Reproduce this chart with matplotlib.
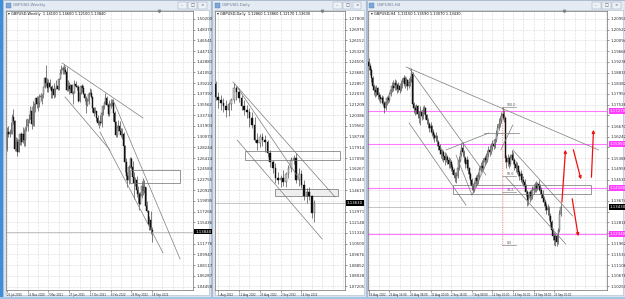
import numpy as np
import matplotlib.pyplot as plt
from matplotlib.patches import Rectangle
from matplotlib.transforms import blended_transform_factory

W, H = 625, 299

# ---- weekly GBPUSD (26 Jul 2020 .. 18 Sep 2022) ----
wk_open0 = 1.2790
wk_close = [1.3085, 1.3055, 1.3090, 1.3090, 1.3350, 1.3275, 1.2795, 1.2915, 1.2745, 1.2945, 1.3045, 1.2915, 1.3045, 1.2945,
            1.3150, 1.3190, 1.3305, 1.3315, 1.3440, 1.3230, 1.3515, 1.3555,
            1.3670, 1.3565, 1.3585, 1.3685, 1.3705, 1.3730, 1.3850, 1.4010, 1.3925, 1.3835, 1.3925, 1.3865, 1.3790, 1.3825,
            1.3715, 1.3840, 1.3875, 1.3815, 1.3990, 1.4090, 1.4150, 1.4190, 1.4155, 1.4110, 1.3800, 1.3880, 1.3830, 1.3885,
            1.3760, 1.3760, 1.3900, 1.3875, 1.3865, 1.3625, 1.3760, 1.3870, 1.3840, 1.3740, 1.3675, 1.3545, 1.3620, 1.3745,
            1.3750, 1.3680, 1.3490, 1.3415, 1.3440, 1.3330, 1.3235, 1.3265, 1.3235, 1.3405, 1.3530,
            1.3590, 1.3675, 1.3555, 1.3390, 1.3530, 1.3560, 1.3590, 1.3410, 1.3250, 1.3035, 1.3180, 1.3185, 1.3110, 1.3035,
            1.3060, 1.2840, 1.2570, 1.2340, 1.2265, 1.2485, 1.2625, 1.2490, 1.2310, 1.2215, 1.2265, 1.2095, 1.2030, 1.1865,
            1.2000, 1.2165, 1.2075, 1.2140, 1.1830, 1.1735, 1.1510, 1.1580, 1.1410, 1.1384]
wk_high = [1.3170, 1.3185, 1.3145, 1.3265, 1.3395, 1.3480, 1.3285, 1.3010, 1.2980, 1.2985, 1.3065, 1.3085, 1.3175, 1.3140,
           1.3180, 1.3315, 1.3310, 1.3400, 1.3540, 1.3460, 1.3625, 1.3585,
           1.3675, 1.3705, 1.3710, 1.3745, 1.3760, 1.3740, 1.3865, 1.4035, 1.4240, 1.4015, 1.3990, 1.4000, 1.3870, 1.3885,
           1.3920, 1.3845, 1.3975, 1.3950, 1.4005, 1.4165, 1.4235, 1.4220, 1.4250, 1.4220, 1.4200, 1.3975, 1.3935, 1.3910,
           1.3910, 1.3790, 1.3985, 1.3960, 1.3890, 1.3890, 1.3785, 1.3890, 1.3910, 1.3890, 1.3750, 1.3710, 1.3675, 1.3775,
           1.3835, 1.3825, 1.3700, 1.3515, 1.3515, 1.3450, 1.3375, 1.3300, 1.3375, 1.3440, 1.3545,
           1.3615, 1.3750, 1.3700, 1.3590, 1.3630, 1.3645, 1.3645, 1.3645, 1.3440, 1.3280, 1.3215, 1.3300, 1.3275, 1.3150,
           1.3150, 1.3090, 1.2860, 1.2640, 1.2405, 1.2525, 1.2665, 1.2665, 1.2600, 1.2405, 1.2325, 1.2335, 1.2165, 1.2060,
           1.2065, 1.2245, 1.2295, 1.2275, 1.2145, 1.1900, 1.1760, 1.1650, 1.1740, 1.1460]
wk_low = [1.2760, 1.3005, 1.3000, 1.3055, 1.3060, 1.3230, 1.2765, 1.2765, 1.2675, 1.2740, 1.2860, 1.2865, 1.2905, 1.2855,
          1.2855, 1.3105, 1.3110, 1.3235, 1.3305, 1.3135, 1.3195, 1.3190,
          1.3435, 1.3490, 1.3450, 1.3520, 1.3620, 1.3565, 1.3675, 1.3835, 1.3880, 1.3775, 1.3780, 1.3830, 1.3670, 1.3670,
          1.3670, 1.3680, 1.3825, 1.3805, 1.3800, 1.3990, 1.4075, 1.4080, 1.4080, 1.4075, 1.3790, 1.3785, 1.3730, 1.3760,
          1.3745, 1.3570, 1.3760, 1.3860, 1.3805, 1.3600, 1.3600, 1.3730, 1.3770, 1.3735, 1.3610, 1.3410, 1.3530, 1.3570,
          1.3720, 1.3670, 1.3425, 1.3355, 1.3410, 1.3280, 1.3200, 1.3160, 1.3200, 1.3170, 1.3380,
          1.3475, 1.3570, 1.3530, 1.3360, 1.3360, 1.3490, 1.3525, 1.3270, 1.3240, 1.3000, 1.2995, 1.3105, 1.3090, 1.3010,
          1.2975, 1.2830, 1.2410, 1.2260, 1.2155, 1.2190, 1.2465, 1.2460, 1.2300, 1.1935, 1.2160, 1.1975, 1.1875, 1.1760,
          1.1850, 1.1960, 1.2005, 1.2050, 1.1805, 1.1715, 1.1490, 1.1405, 1.1350, 1.1210]
wk_ticks = [1.50200, 1.48370, 1.46541, 1.44711, 1.42881, 1.41052, 1.39222, 1.37392, 1.35562, 1.33733, 1.31903,
            1.30073, 1.28244, 1.26414, 1.24584, 1.22755, 1.20925, 1.19095, 1.17266, 1.15436, 1.13606, 1.11776,
            1.09947, 1.08117, 1.06287, 1.04458]
wk_date_pos = [0, 16, 32, 48, 64, 80, 96, 112]
wk_dates = ['26 Jul 2020', '15 Nov 2020', '7 Mar 2021', '27 Jun 2021', '17 Oct 2021', '6 Feb 2022', '29 May 2022',
            '18 Sep 2022']

# ---- daily GBPUSD (29 Jul .. 22 Sep 2022) ----
d_open0 = 1.2279
d_close = [1.2179, 1.2156, 1.2133, 1.2110, 1.2079, 1.2125, 1.2156, 1.2248, 1.2218, 1.2171, 1.2110, 1.2079, 1.2064,
           1.2017, 1.1963, 1.1848, 1.1825, 1.1871, 1.1848, 1.1833, 1.1748, 1.1679, 1.1632, 1.1555, 1.1540, 1.1555,
           1.1525, 1.1586, 1.1632, 1.1694, 1.1710, 1.1540, 1.1586, 1.1502, 1.1417, 1.1448, 1.1417, 1.1286, 1.1363]
d_high = [1.2302, 1.2218, 1.2194, 1.2171, 1.2156, 1.2141, 1.2171, 1.2287, 1.2264, 1.2248, 1.2194, 1.2156, 1.2118,
          1.2094, 1.2064, 1.2025, 1.1902, 1.1894, 1.1902, 1.1887, 1.1848, 1.1771, 1.1694, 1.1671, 1.1602, 1.1579,
          1.1617, 1.1602, 1.1656, 1.1717, 1.1733, 1.1748, 1.1632, 1.1617, 1.1540, 1.1478, 1.1486, 1.1424, 1.1386]
d_low = [1.2156, 1.2094, 1.2079, 1.2064, 1.2025, 1.2033, 1.2079, 1.2133, 1.2156, 1.2141, 1.2079, 1.2041, 1.2017,
         1.1948, 1.1940, 1.1833, 1.1771, 1.1794, 1.1802, 1.1756, 1.1717, 1.1640, 1.1594, 1.1517, 1.1509, 1.1486,
         1.1494, 1.1486, 1.1555, 1.1602, 1.1663, 1.1517, 1.1494, 1.1478, 1.1386, 1.1363, 1.1386, 1.1247, 1.1217]
d_ticks = [1.27800, 1.26976, 1.26152, 1.25329, 1.24505, 1.23681, 1.22857, 1.22033, 1.21209, 1.20386, 1.19562,
           1.18738, 1.17914, 1.17090, 1.16267, 1.15443, 1.14619, 1.13795, 1.12971, 1.12148, 1.11324, 1.10500,
           1.09676, 1.08852, 1.08028, 1.07205]
d_date_pos = [1, 9, 17, 25, 33]
d_dates = ['1 Aug 2022', '11 Aug 2022', '23 Aug 2022', '2 Sep 2022', '14 Sep 2022']

# ---- H4 GBPUSD (19 Aug .. 22 Sep 2022) ----
h_open0 = 1.1923
h_close = [1.1907, 1.1891, 1.1859, 1.1827, 1.1811, 1.1803, 1.1819, 1.1791, 1.1783, 1.1775,
           1.1779, 1.1759, 1.1739, 1.1763, 1.1779, 1.1771, 1.1795, 1.1811, 1.1827, 1.1819,
           1.1839, 1.1831, 1.1815, 1.1827, 1.1811, 1.1835, 1.1843, 1.1859, 1.1835, 1.1851,
           1.1827, 1.1843, 1.1851, 1.1875, 1.1755, 1.1739, 1.1731, 1.1747, 1.1715, 1.1699,
           1.1723, 1.1707, 1.1731, 1.1739, 1.1711, 1.1691, 1.1675, 1.1659, 1.1667, 1.1643,
           1.1631, 1.1619, 1.1627, 1.1603, 1.1587, 1.1571, 1.1555, 1.1563, 1.1547, 1.1531,
           1.1543, 1.1531, 1.1515, 1.1523, 1.1503, 1.1491, 1.1471, 1.1459, 1.1467, 1.1499,
           1.1531, 1.1555, 1.1579, 1.1563, 1.1539, 1.1515, 1.1531, 1.1499, 1.1475, 1.1451,
           1.1427, 1.1411, 1.1435, 1.1459, 1.1447, 1.1467, 1.1491, 1.1507, 1.1499, 1.1523,
           1.1539, 1.1531, 1.1555, 1.1571, 1.1563, 1.1583, 1.1595, 1.1587, 1.1611, 1.1635,
           1.1659, 1.1675, 1.1691, 1.1707, 1.1715, 1.1699, 1.1539, 1.1523, 1.1539, 1.1515,
           1.1539, 1.1551, 1.1531, 1.1515, 1.1499, 1.1507, 1.1483, 1.1467, 1.1475, 1.1451,
           1.1443, 1.1427, 1.1403, 1.1371, 1.1379, 1.1403, 1.1387, 1.1411, 1.1419, 1.1431,
           1.1419, 1.1435, 1.1427, 1.1411, 1.1395, 1.1379, 1.1363, 1.1347, 1.1331, 1.1339,
           1.1307, 1.1283, 1.1251, 1.1227, 1.1211, 1.1227, 1.1203, 1.1251, 1.1315, 1.1343]
h_high = [1.1939, 1.1919, 1.1899, 1.1867, 1.1835, 1.1827, 1.1831, 1.1823, 1.1803, 1.1795,
          1.1791, 1.1787, 1.1767, 1.1771, 1.1787, 1.1791, 1.1803, 1.1827, 1.1843, 1.1851,
          1.1855, 1.1851, 1.1839, 1.1843, 1.1835, 1.1851, 1.1859, 1.1871, 1.1867, 1.1863,
          1.1855, 1.1859, 1.1867, 1.1899, 1.1883, 1.1763, 1.1751, 1.1755, 1.1751, 1.1727,
          1.1747, 1.1731, 1.1747, 1.1751, 1.1743, 1.1715, 1.1699, 1.1683, 1.1683, 1.1671,
          1.1655, 1.1639, 1.1643, 1.1631, 1.1611, 1.1595, 1.1579, 1.1575, 1.1571, 1.1563,
          1.1559, 1.1551, 1.1543, 1.1539, 1.1531, 1.1515, 1.1499, 1.1483, 1.1483, 1.1511,
          1.1547, 1.1571, 1.1599, 1.1603, 1.1571, 1.1547, 1.1547, 1.1535, 1.1503, 1.1483,
          1.1459, 1.1439, 1.1447, 1.1471, 1.1475, 1.1483, 1.1503, 1.1523, 1.1531, 1.1539,
          1.1551, 1.1559, 1.1571, 1.1587, 1.1591, 1.1599, 1.1611, 1.1615, 1.1619, 1.1651,
          1.1675, 1.1699, 1.1707, 1.1723, 1.1743, 1.1731, 1.1707, 1.1551, 1.1555, 1.1547,
          1.1555, 1.1571, 1.1563, 1.1539, 1.1527, 1.1523, 1.1511, 1.1491, 1.1491, 1.1479,
          1.1467, 1.1455, 1.1435, 1.1411, 1.1395, 1.1411, 1.1415, 1.1427, 1.1435, 1.1443,
          1.1447, 1.1443, 1.1451, 1.1435, 1.1423, 1.1411, 1.1387, 1.1375, 1.1359, 1.1355,
          1.1347, 1.1319, 1.1291, 1.1259, 1.1243, 1.1239, 1.1235, 1.1259, 1.1331, 1.1359]
h_low = [1.1891, 1.1871, 1.1843, 1.1811, 1.1791, 1.1783, 1.1787, 1.1775, 1.1767, 1.1759,
         1.1755, 1.1747, 1.1719, 1.1731, 1.1751, 1.1759, 1.1763, 1.1787, 1.1803, 1.1807,
         1.1811, 1.1811, 1.1799, 1.1803, 1.1799, 1.1807, 1.1819, 1.1827, 1.1819, 1.1827,
         1.1811, 1.1819, 1.1827, 1.1843, 1.1739, 1.1719, 1.1711, 1.1715, 1.1699, 1.1679,
         1.1671, 1.1691, 1.1695, 1.1715, 1.1695, 1.1675, 1.1659, 1.1643, 1.1639, 1.1627,
         1.1615, 1.1603, 1.1607, 1.1587, 1.1571, 1.1555, 1.1539, 1.1531, 1.1523, 1.1511,
         1.1523, 1.1515, 1.1499, 1.1499, 1.1487, 1.1475, 1.1459, 1.1443, 1.1439, 1.1459,
         1.1491, 1.1523, 1.1547, 1.1547, 1.1523, 1.1499, 1.1491, 1.1475, 1.1459, 1.1435,
         1.1411, 1.1399, 1.1403, 1.1423, 1.1431, 1.1435, 1.1455, 1.1483, 1.1487, 1.1491,
         1.1511, 1.1519, 1.1523, 1.1543, 1.1547, 1.1555, 1.1571, 1.1575, 1.1579, 1.1603,
         1.1627, 1.1651, 1.1663, 1.1679, 1.1691, 1.1683, 1.1523, 1.1499, 1.1507, 1.1499,
         1.1507, 1.1531, 1.1515, 1.1491, 1.1483, 1.1475, 1.1467, 1.1451, 1.1443, 1.1435,
         1.1427, 1.1411, 1.1387, 1.1347, 1.1351, 1.1363, 1.1371, 1.1375, 1.1395, 1.1403,
         1.1403, 1.1411, 1.1407, 1.1395, 1.1379, 1.1363, 1.1347, 1.1331, 1.1315, 1.1311,
         1.1291, 1.1267, 1.1235, 1.1211, 1.1191, 1.1187, 1.1187, 1.1195, 1.1243, 1.1307]
h_ticks = [1.20950, 1.20522, 1.20094, 1.19666, 1.19238, 1.18810, 1.18382, 1.17954, 1.17526, 1.17098, 1.16670,
           1.16242, 1.15814, 1.15386, 1.14958, 1.14530, 1.14102, 1.13674, 1.13246, 1.12818, 1.12390, 1.11962,
           1.11534, 1.11106, 1.10678, 1.10250]
h_date_pos = [0, 16, 32, 48, 64, 80, 96, 112, 128, 144]
h_dates = ['19 Aug 2022', '23 Aug 16:00', '26 Aug 08:00', '31 Aug 00:00', '2 Sep 16:00', '7 Sep 08:00',
           '12 Sep 00:00', '14 Sep 16:00', '19 Sep 08:00', '22 Sep 00:00']
h_levels = [1.1727, 1.1595, 1.1418, 1.1234]

# trend lines: (x0, p0, x1, p1) in bar index / price
wk_lines = [(42.5, 1.4268, 105.0, 1.3327), (44.8, 1.3686, 79.5, 1.2780),
            (71.8, 1.3088, 120.5, 1.1019), (81.9, 1.3635, 133.6, 1.0916)]
d_lines = [(6.7, 1.2295, 46.0, 1.1409), (8.3, 1.2256, 32.5, 1.1540), (8.3, 1.1848, 41.0, 1.1086)]
h_lines = [(29.0, 1.1903, 178.6, 1.1571), (31.3, 1.1899, 91.0, 1.1471), (31.3, 1.1679, 75.5, 1.1351),
           (111.9, 1.1571, 158.4, 1.1307), (106.5, 1.1463, 153.0, 1.1195),
           (60.0, 1.1571, 93.3, 1.1639), (89.5, 1.1639, 116.6, 1.1639),
           (67.8, 1.1551, 80.2, 1.1391), (80.2, 1.1391, 92.6, 1.1531), (102.6, 1.1571, 111.9, 1.1671)]
h_arrows = [(149.9, 1.1351, 153.0, 1.1583), (158.4, 1.1583, 165.4, 1.1443),
            (172.9, 1.1451, 174.7, 1.1663), (157.7, 1.1387, 163.1, 1.1215)]
fib_levels = [1.1743, 1.1467, 1.1403, 1.1191]
fib_names = ['100.0', '50.0', '38.2', '0.0']

fig = plt.figure(figsize=(W / 100, H / 100), dpi=100)
fig.patch.set_facecolor('#d3dce7')


def rect(x0, y0, x1, y1, **kw):
    kw.setdefault('zorder', -5)
    fig.add_artist(Rectangle((x0 / W, 1 - y1 / H), (x1 - x0) / W, (y1 - y0) / H,
                             transform=fig.transFigure, **kw))


def window(x0, x1, title):
    rect(x0, 0, x1, 297, fc='#dae3ee', ec='#9db0c6', lw=0.5)
    rect(x0 + 1, 0.5, x1 - 1, 9.5, fc='#e4ebf3', ec='none')
    rect(x0 + 2.5, 2.5, x0 + 7.5, 7.5, fc='#7da7d6', ec='#4f7fb5', lw=0.3, zorder=-4)
    fig.text((x0 + 10) / W, 1 - 5.2 / H, title, fontsize=3, color='#6f7f92', va='center')
    for k, sym in enumerate(['\u2013', '\u25a1', '\u00d7']):
        bx = x1 - 33 + k * 10
        rect(bx, 2, bx + 8.5, 8.5, fc='#eef2f7', ec='#8c9db2', lw=0.3, zorder=-4)
        fig.text((bx + 4.25) / W, 1 - 5.3 / H, sym, fontsize=3, color='#44546a', ha='center', va='center')
    rect(x0 + 2.5, 10, x1 - 2, 295, fc='white', ec='#a9b8c9', lw=0.4)


def candles(ax, open0, close, high, low, width):
    c = np.array(close)
    o = np.array([open0] + close[:-1])
    hi = np.array(high)
    lo = np.array(low)
    idx = np.arange(len(c))
    up = c >= o
    ax.vlines(idx, lo, hi, color='#3a3a3a', lw=0.45, zorder=3)
    body = np.maximum(np.abs(c - o), 0.00015)
    ax.bar(idx[up], body[up], width, bottom=o[up], color='#cfcfcf', edgecolor='#4a4a4a', lw=0.3, zorder=4)
    ax.bar(idx[~up], body[~up], width, bottom=c[~up], color='#111111', edgecolor='#111111', lw=0.3, zorder=4)


def setup(ax, xlim, ticks, date_pos, dates, grid_step, header, last, marked=()):
    ax.set_facecolor('white')
    ax.set_xlim(*xlim)
    for s in ax.spines.values():
        s.set_color('#6e6e6e')
        s.set_linewidth(0.5)
    ax.yaxis.tick_right()
    step = abs(ticks[0] - ticks[1])
    # the coloured price boxes hide the scale labels under them
    hidden = [last] + list(marked)
    ax.set_yticks(ticks)
    ax.set_yticklabels(['' if min(abs(v - m) for m in hidden) < 0.5 * step else '%.5f' % v for v in ticks])
    ax.set_xticks(date_pos)
    ax.set_xticklabels(dates)
    for lb in ax.get_xticklabels():
        lb.set_ha('left')
    ax.set_xticks(np.arange(date_pos[0], xlim[1], grid_step), minor=True)
    ax.tick_params(axis='y', which='major', labelsize=2.8, length=1.5, width=0.4, pad=1.2,
                   colors='#4a4a4a', labelcolor='#2a2a2a')
    ax.tick_params(axis='x', which='major', labelsize=1.9, length=1.5, width=0.4, pad=1.0,
                   colors='#4a4a4a', labelcolor='#2a2a2a')
    ax.tick_params(axis='x', which='minor', length=0)
    ax.grid(True, which='both', color='#b9b9b9', lw=0.4, linestyle=(0, (1, 1.6)))
    ax.set_axisbelow(True)
    ax.text(0.012, 0.993, header, transform=ax.transAxes, fontsize=2.6, va='top', color='#111111')
    tr = blended_transform_factory(ax.transAxes, ax.transData)
    ax.axhline(last, color='#9a9a9a', lw=0.4, zorder=2)
    ax.text(1.012, last, '%.5f' % last, transform=tr, fontsize=2.8, color='white', va='center',
            bbox=dict(fc='black', ec='none', pad=0.6), zorder=8)
    ax.plot([0.82], [1.0], marker='v', ms=1.8, color='#8a8a8a', transform=ax.transAxes, clip_on=False)
    return tr


def ax_px(x0, x1):
    return fig.add_axes([x0 / W, 1 - 290 / H, (x1 - x0) / W, (290 - 10.5) / H])


# ---------- window 1: weekly ----------
window(3, 211, 'GBPUSD,Weekly')
ax1 = ax_px(6, 193)
ax1.set_ylim(1.0386, 1.5165)
candles(ax1, wk_open0, wk_close, wk_high, wk_low, 0.75)
setup(ax1, (-0.77, 143.6), wk_ticks, wk_date_pos, wk_dates, 8,
      '\u25be GBPUSD,Weekly  %.5f %.5f %.5f %.5f' % (wk_close[-2], wk_high[-1], wk_low[-1], wk_close[-1]),
      wk_close[-1])
for x0, p0, x1, p1 in wk_lines:
    ax1.plot([x0, x1], [p0, p1], color='#7c7c7c', lw=0.5, zorder=5)
ax1.add_patch(Rectangle((95.0, 1.2216), 38.6, 0.0222, fc='none', ec='#6e6e6e', lw=0.5, zorder=5))

# ---------- window 2: daily ----------
window(212, 366, 'GBPUSD,Daily')
ax2 = ax_px(215, 345)
ax2.set_ylim(1.0693, 1.2845)
candles(ax2, d_open0, d_close, d_high, d_low, 0.62)
setup(ax2, (-0.2, 49.8), d_ticks, d_date_pos, d_dates, 4,
      '\u25be GBPUSD,Daily  %.5f %.5f %.5f %.5f' % (d_close[-2], d_high[-1], d_low[-1], d_close[-1]),
      d_close[-1])
for x0, p0, x1, p1 in d_lines:
    ax2.plot([x0, x1], [p0, p1], color='#7c7c7c', lw=0.5, zorder=5)
ax2.add_patch(Rectangle((11.4, 1.1694), 36.5, 0.0066, fc='none', ec='#6e6e6e', lw=0.5, zorder=5))
ax2.add_patch(Rectangle((22.9, 1.1417), 24.2, 0.0054, fc='#eeeeee', ec='#6e6e6e', lw=0.5, zorder=2.5))

# ---------- window 3: H4 ----------
window(367, 625, 'GBPUSD,H4')
ax3 = ax_px(368, 606.5)
ax3.set_ylim(1.1011, 1.2129)
tr3 = blended_transform_factory(ax3.transAxes, ax3.transData)
for lv in h_levels:
    ax3.axhline(lv, color='#ff78ff', lw=0.8, zorder=2)
    ax3.text(1.012, lv, '%.5f' % lv, transform=tr3, fontsize=2.8, color='white', va='center',
             bbox=dict(fc='#ff3cff', ec='none', pad=0.6), zorder=8)
candles(ax3, h_open0, h_close, h_high, h_low, 0.72)
setup(ax3, (-0.6, 184.7), h_ticks, h_date_pos, h_dates, 8,
      '\u25be GBPUSD,H4  %.5f %.5f %.5f %.5f' % (h_close[-2], h_high[-1], h_low[-1], h_close[-1]),
      h_close[-1], marked=h_levels)
for x0, p0, x1, p1 in h_lines:
    ax3.plot([x0, x1], [p0, p1], color='#7c7c7c', lw=0.5, zorder=5)
ax3.add_patch(Rectangle((65.4, 1.1395), 107.0, 0.0036, fc='none', ec='#6e6e6e', lw=0.5, zorder=5))
ax3.plot([103.4, 103.4], [fib_levels[0], fib_levels[-1]], color='#ff5050', lw=0.5, linestyle=(0, (1, 1.5)), zorder=5)
for lv, name in zip(fib_levels, fib_names):
    ax3.plot([103.4, 114.3], [lv, lv], color='#6e6e6e', lw=0.4, zorder=5)
    ax3.text(107.5, lv + 0.0004, name, fontsize=2.3, color='#555555', zorder=6)
for x0, p0, x1, p1 in h_arrows:
    ax3.annotate('', xy=(x1, p1), xytext=(x0, p0),
                 arrowprops=dict(arrowstyle='-|>', color='#ee1111', lw=0.9, mutation_scale=4), zorder=7)

# left and bottom border strips of the terminal
rect(0, 0, 2.5, 299, fc='#3d8fdc', ec='none', zorder=-3)
rect(0, 297, 625, 299, fc='#a6c6e6', ec='none', zorder=-3)

fig.savefig('out.png', dpi=100, facecolor=fig.get_facecolor())
